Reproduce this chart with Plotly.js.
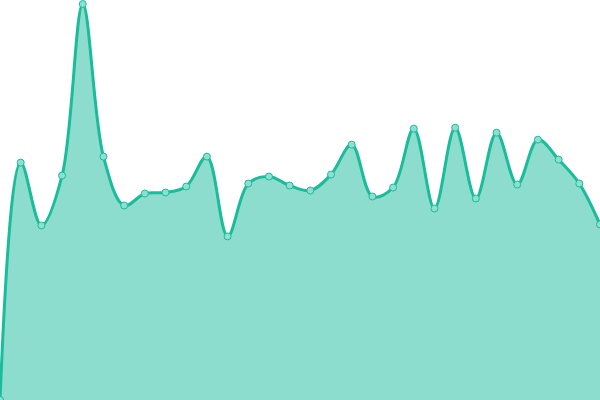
<!DOCTYPE html>
<html>
<head>
<meta charset="utf-8">
<script src="https://cdn.plot.ly/plotly-3.0.1.min.js"></script>
<style>
  html, body { margin: 0; padding: 0; background: #fff; }
  #chart { width: 600px; height: 400px; }
</style>
</head>
<body>
<div id="chart"></div>
<script>
// values (pixel height from the bottom)
var puntos = [0,1,2,3,4,5,6,7,8,9,10,11,12,13,14,15,16,17,18,19,20,21,22,23,24,25,26,27,28,29];
var valores = [0, 238, 175, 225, 397, 244, 195, 207, 208, 214, 244, 164, 217, 224, 215, 210,
               226, 256, 204, 213, 272, 192, 273, 202, 268, 216, 261, 241, 217, 176];

var data = [
  {
    x: puntos,
    y: valores,
    type: 'scatter',
    mode: 'lines+markers',
    fill: 'tozeroy',
    fillcolor: 'rgba(26,188,156,0.5)',
    line: { color: '#1abc9c', width: 3, shape: 'spline', smoothing: 1 },
    marker: { size: 7, color: '#8de0cf', line: { color: '#1abc9c', width: 1 } },
    cliponaxis: true,
    hoverinfo: 'none'
  }
];

var layout = {
  width: 600,
  height: 400,
  margin: { l: 0, r: 0, t: 0, b: 0 },
  paper_bgcolor: '#fff',
  plot_bgcolor: '#fff',
  showlegend: false,
  xaxis: { visible: false, range: [0, 29] },
  yaxis: { visible: false, range: [0, 401] }
};

Plotly.newPlot('chart', data, layout, { staticPlot: true, displayModeBar: false });
</script>
</body>
</html>
